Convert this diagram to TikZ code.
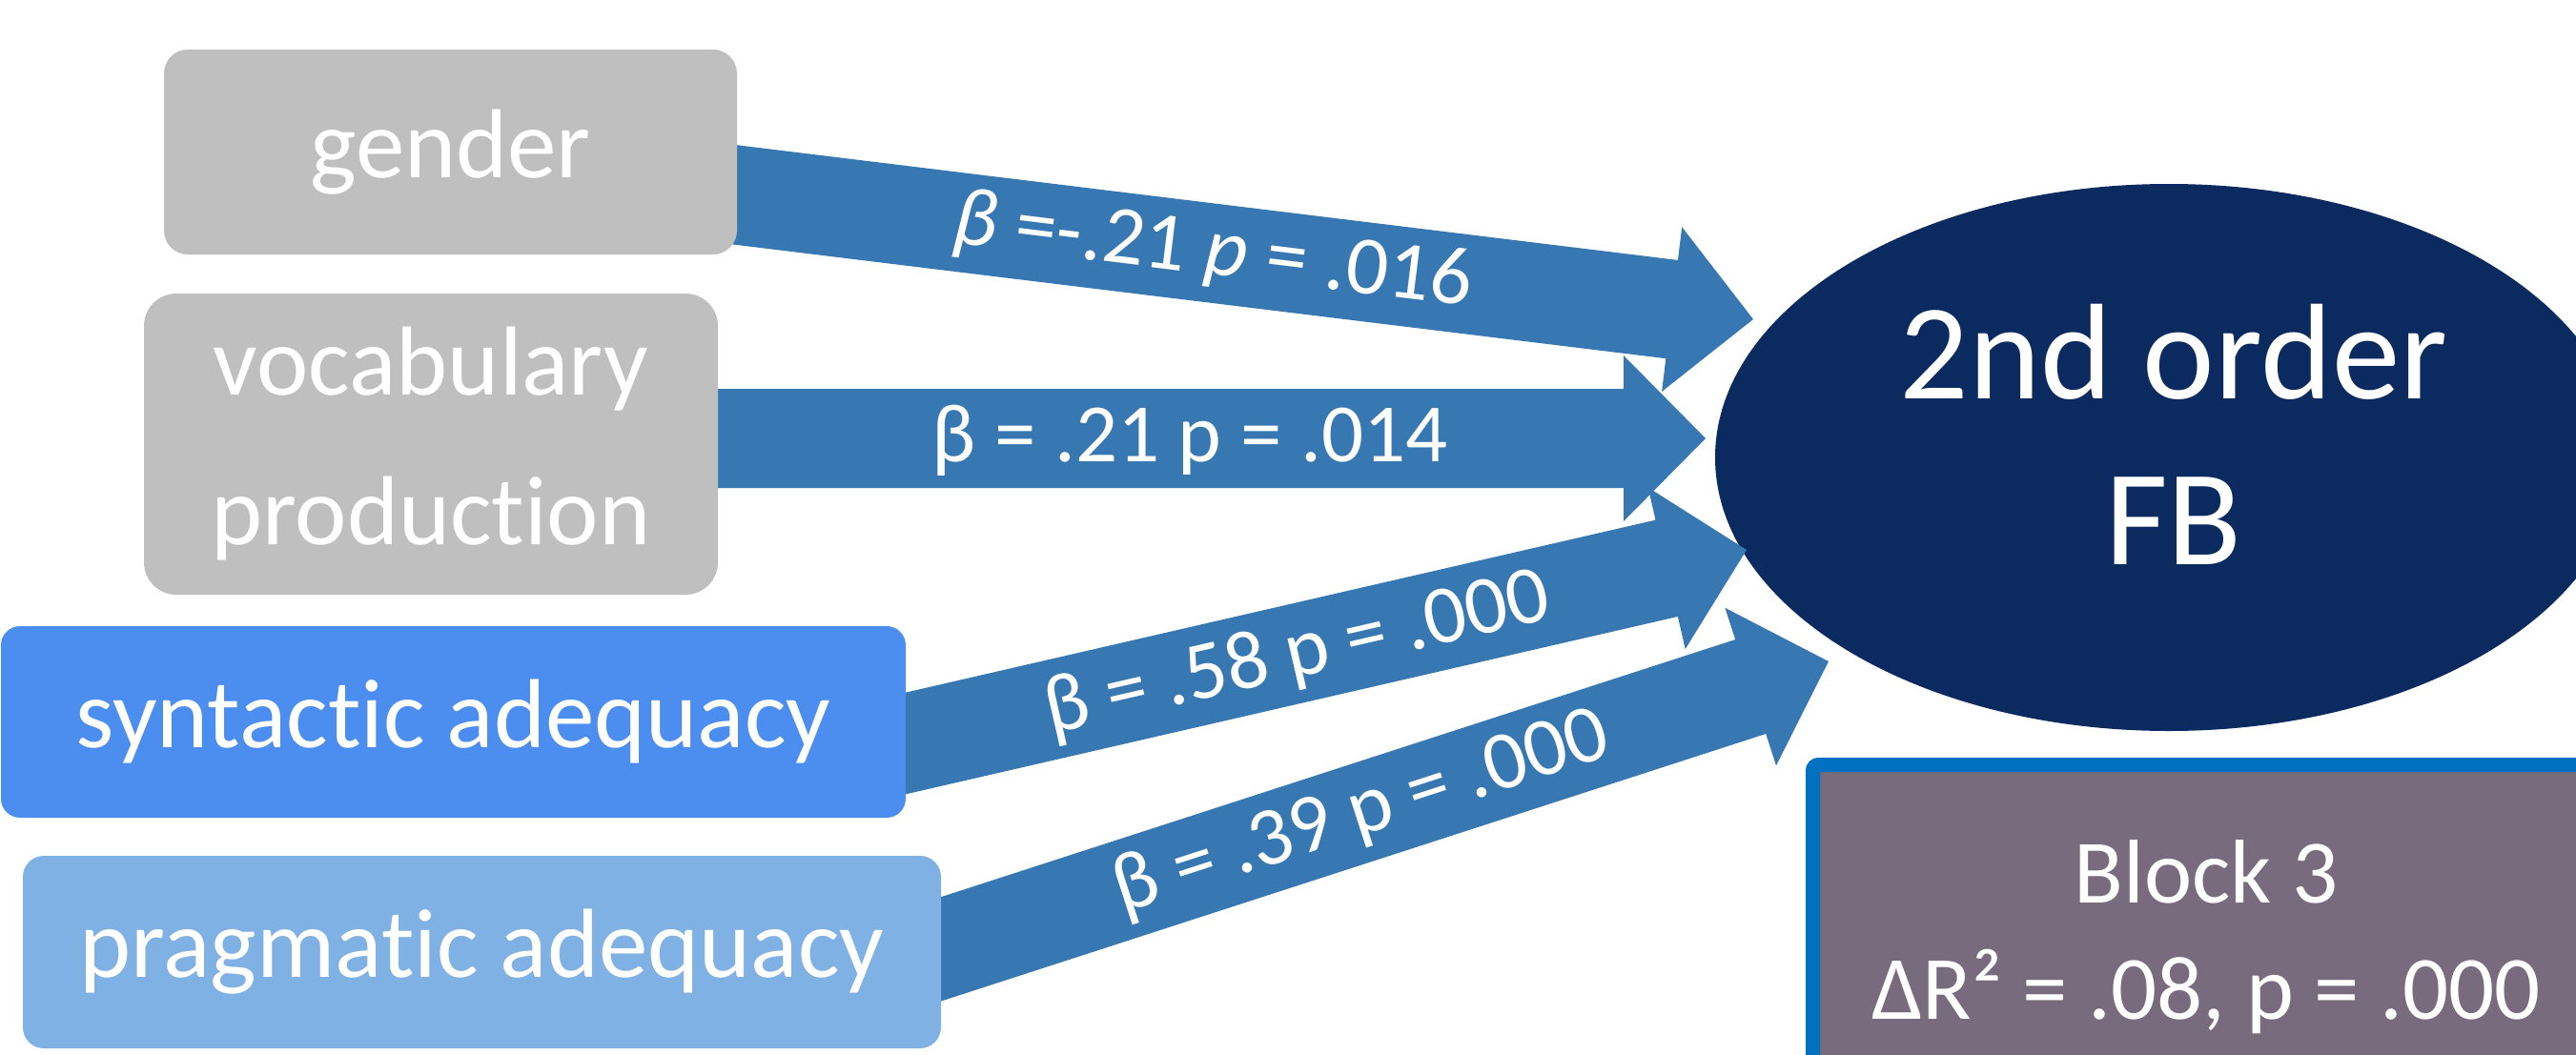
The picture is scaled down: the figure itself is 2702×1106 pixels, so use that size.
\documentclass[tikz,border=0pt]{standalone}
\usepackage{fontspec}
\setmainfont{Carlito}[Ligatures={NoCommon,NoContextual}]
\usetikzlibrary{calc,shapes.geometric}
\definecolor{boxgrey}{RGB}{191,191,191}
\definecolor{synblue}{RGB}{76,142,239}
\definecolor{pragblue}{RGB}{127,177,228}
\definecolor{arrowblue}{RGB}{55,120,179}
\definecolor{navy}{RGB}{11,43,96}
\definecolor{blockblue}{RGB}{0,112,192}
\definecolor{blockfill}{RGB}{120,107,125}
\tikzset{
  srcbox/.style={inner sep=0pt, text=white, align=center,
    font=\fontsize{103pt}{157pt}\selectfont},
  lbl/.style={inner sep=0pt, text=white, font=\fontsize{87pt}{100pt}\selectfont},
  arrowfill/.style={fill=arrowblue}
}
\newcommand\blockarrow[3]{%
  \coordinate (#1-m) at ($(#3)!86pt!(#2)$);
  \fill[arrowfill] ($(#2)!52pt!90:(#3)$) -- ($(#1-m)!52pt!90:(#3)$)
    -- ($(#1-m)!87pt!90:(#3)$) -- (#3) -- ($(#1-m)!87pt!-90:(#3)$)
    -- ($(#1-m)!52pt!-90:(#3)$) -- ($(#2)!52pt!-90:(#3)$) -- cycle;
}
\begin{document}
\begin{tikzpicture}[x=1pt,y=-1pt]
\useasboundingbox (0,0) rectangle (2702,1106);
\clip (0,0) rectangle (2702,1106);
\fill[white] (0,0) rectangle (2702,1106);

% target ellipse
\node[ellipse, fill=navy, inner sep=0pt, minimum width=952pt, minimum height=574pt] (fb) at (2275,480) {};
\node[inner sep=0pt, text=white, align=center, font=\fontsize{143pt}{174pt}\selectfont] (fbtext) at (2280,456) {2nd order\\FB};

% block box
\node[draw=blockblue, line width=15pt, fill=blockfill, rounded corners=6pt, inner sep=0pt,
  minimum width=866pt, minimum height=365pt, anchor=north west] (block) at (1894,795) {};
\node[inner sep=0pt, text=white, align=center, font=\fontsize{95pt}{122pt}\selectfont] (blocktext) at (2314,983) {Block 3\\ΔR² = .08, p = .000};

% arrow ends
\coordinate (s1) at (745,201.2);
\coordinate (t1) at (1839,335);
\coordinate (s2) at (730,460);
\coordinate (t2) at (1789,460);
\coordinate (s3) at (930,784.6);
\coordinate (t3) at (1832,577);
\coordinate (s4) at (965,1003);
\coordinate (t4) at (1918,694);

\blockarrow{a2}{s2}{t2}
\blockarrow{a1}{s1}{t1}
\blockarrow{a4}{s4}{t4}
\blockarrow{a3}{s3}{t3}

% source boxes
\node[srcbox, fill=boxgrey, rounded corners=25pt, minimum width=601pt, minimum height=215pt] (gender) at (472.5,159.5) {gender};
\node[srcbox, fill=boxgrey, rounded corners=34pt, minimum width=602pt, minimum height=316pt] (vocab) at (452,466) {vocabulary\\production};
\node[srcbox, fill=synblue, rounded corners=20pt, minimum width=949pt, minimum height=201pt] (syn) at (475.5,757.5) {syntactic adequacy};
\node[srcbox, fill=pragblue, rounded corners=22pt, minimum width=963pt, minimum height=202pt] (prag) at (505.5,999) {pragmatic adequacy};

% labels
\node[lbl, rotate=-6.97] (l1) at (1272,266) {{\itshape β} =-.21 {\itshape p} = .016};
\node[lbl] (l2) at (1248,462) {β = .21 p = .014};
\node[lbl, rotate=12.96] (l3) at (1361,688) {β = .58 p = .000};
\node[lbl, rotate=17.97] (l4) at (1428,854) {β = .39 p = .000};
\end{tikzpicture}
\end{document}
